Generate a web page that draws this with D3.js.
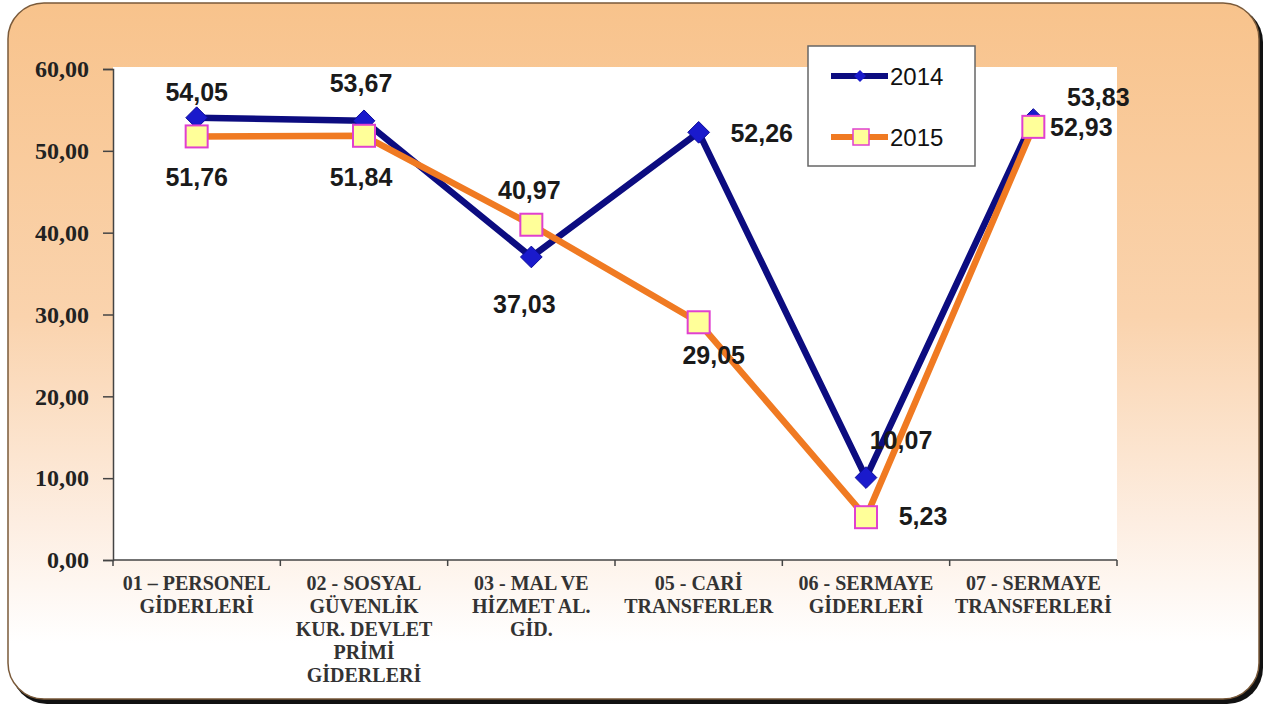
<!DOCTYPE html>
<html>
<head>
<meta charset="utf-8">
<script src="https://cdn.jsdelivr.net/npm/d3@7"></script>
<style>
  body { margin: 0; background: #ffffff; }
  svg { display: block; }
</style>
</head>
<body>
<div id="chart"></div>
<script>
var width = 1269,
    height = 707;

var categories = [
  ["01 – PERSONEL", "GİDERLERİ"],
  ["02 - SOSYAL", "GÜVENLİK", "KUR. DEVLET", "PRİMİ", "GİDERLERİ"],
  ["03 - MAL VE", "HİZMET AL.", "GİD."],
  ["05 - CARİ", "TRANSFERLER"],
  ["06 - SERMAYE", "GİDERLERİ"],
  ["07 - SERMAYE", "TRANSFERLERİ"]
];
var values2014 = [54.05, 53.67, 37.03, 52.26, 10.07, 53.83];
var values2015 = [51.76, 51.84, 40.97, 29.05, 5.23, 52.93];
var yTicks = [0, 10, 20, 30, 40, 50, 60];

// label offsets (dx, dy from the point)
var labelPos2014 = [[0, -26], [-3, -38], [-7, 47], [63, 1], [35, -38], [65, -22]];
var labelPos2015 = [[0, 41], [-3, 41], [-2, -35], [15, 33], [57, -1], [48, 0]];

var margin = {left: 113, right: 152, top: 69, bottom: 147};

var svg = d3.select("#chart").append("svg")
    .attr("width", width)
    .attr("height", height);

var defs = svg.append("defs");
var grad = defs.append("linearGradient")
    .attr("id", "bg").attr("x1", 0).attr("y1", 0).attr("x2", 0).attr("y2", 1);
grad.append("stop").attr("offset", "0%").attr("stop-color", "#f8c38c");
grad.append("stop").attr("offset", "45%").attr("stop-color", "#fad3ad");
grad.append("stop").attr("offset", "75%").attr("stop-color", "#fdeee2");
grad.append("stop").attr("offset", "92%").attr("stop-color", "#ffffff");

// frame with shadow
svg.append("rect")
    .attr("x", 11).attr("y", 6).attr("width", 1252).attr("height", 698)
    .attr("rx", 36).attr("ry", 36)
    .attr("fill", "#111");
svg.append("rect")
    .attr("x", 8).attr("y", 3).attr("width", 1251).attr("height", 696)
    .attr("rx", 36).attr("ry", 36)
    .attr("fill", "url(#bg)")
    .attr("stroke", "#7a5a3a").attr("stroke-width", 1.5);

var x = d3.scaleBand()
    .domain(d3.range(categories.length))
    .range([margin.left, width - margin.right]);

var y = d3.scaleLinear()
    .domain([0, 60])
    .range([height - margin.bottom, margin.top]);

// plot area
svg.append("rect")
    .attr("x", margin.left).attr("y", y(60) - 2)
    .attr("width", x.range()[1] - margin.left)
    .attr("height", y(0) - y(60) + 2)
    .attr("fill", "#ffffff");

// y axis
var yAxis = svg.append("g")
    .attr("transform", "translate(" + margin.left + ",0)")
    .call(d3.axisLeft(y).tickValues(yTicks).tickSize(10).tickPadding(14)
      .tickFormat(function(d) { return d3.format(".2f")(d).replace(".", ","); }));
yAxis.select(".domain").attr("stroke", "#444").attr("stroke-width", 1.5);
yAxis.selectAll(".tick line").attr("stroke", "#444").attr("stroke-width", 1.5);
yAxis.selectAll(".tick text")
    .attr("fill", "#222")
    .style("font-family", "'Liberation Serif', 'Times New Roman', serif")
    .style("font-weight", "bold")
    .style("font-size", "24px");

// x axis
var xAxisG = svg.append("g")
    .attr("transform", "translate(0," + y(0) + ")");
xAxisG.append("line")
    .attr("x1", x.range()[0]).attr("x2", x.range()[1])
    .attr("stroke", "#444").attr("stroke-width", 1.5);
xAxisG.selectAll(".xtick")
    .data(d3.range(categories.length + 1))
  .enter().append("line")
    .attr("x1", function(d) { return margin.left + d * x.bandwidth(); })
    .attr("x2", function(d) { return margin.left + d * x.bandwidth(); })
    .attr("y1", 0).attr("y2", 6)
    .attr("stroke", "#444").attr("stroke-width", 1.5);

var xLabels = xAxisG.selectAll(".xlabel")
    .data(categories)
  .enter().append("text")
    .attr("text-anchor", "middle")
    .attr("fill", "#333")
    .style("font-family", "'Liberation Serif', 'Times New Roman', serif")
    .style("font-weight", "bold")
    .style("font-size", "20px");
xLabels.selectAll("tspan")
    .data(function(d, i) { return d.map(function(t) { return {t: t, i: i}; }); })
  .enter().append("tspan")
    .attr("x", function(d) { return x(d.i) + x.bandwidth() / 2; })
    .attr("y", function(d, j) { return 30 + j * 23; })
    .text(function(d) { return d.t; });

var line = d3.line()
    .x(function(d, i) { return x(i) + x.bandwidth() / 2; })
    .y(function(d) { return y(d); });

// 2014 series
svg.append("path")
    .datum(values2014)
    .attr("d", line)
    .attr("fill", "none")
    .attr("stroke", "#0c0c80")
    .attr("stroke-width", 6.5)
    .attr("stroke-linejoin", "round");

svg.selectAll(".m2014")
    .data(values2014)
  .enter().append("path")
    .attr("d", d3.symbol().type(d3.symbolDiamond2).size(300))
    .attr("transform", function(d, i) { return "translate(" + (x(i) + x.bandwidth() / 2) + "," + y(d) + ")"; })
    .attr("fill", "#1a1acc")
    .attr("stroke", "#0c0c9a")
    .attr("stroke-width", 1);

// 2015 series
svg.append("path")
    .datum(values2015)
    .attr("d", line)
    .attr("fill", "none")
    .attr("stroke", "#f07a22")
    .attr("stroke-width", 6.5)
    .attr("stroke-linejoin", "round");

svg.selectAll(".m2015")
    .data(values2015)
  .enter().append("rect")
    .attr("x", function(d, i) { return x(i) + x.bandwidth() / 2 - 11; })
    .attr("y", function(d) { return y(d) - 11; })
    .attr("width", 22).attr("height", 22)
    .attr("fill", "#ffff99")
    .attr("stroke", "#e040d0")
    .attr("stroke-width", 2);

function fmt(v) { return d3.format(".2f")(v).replace(".", ","); }

function addLabels(vals, pos) {
  svg.append("g").selectAll("text")
      .data(vals)
    .enter().append("text")
      .attr("x", function(d, i) { return x(i) + x.bandwidth() / 2 + pos[i][0]; })
      .attr("y", function(d, i) { return y(d) + pos[i][1]; })
      .attr("text-anchor", "middle")
      .attr("dominant-baseline", "central")
      .attr("fill", "#1a1a1a")
      .style("font-family", "'Liberation Sans', Arial, sans-serif")
      .style("font-weight", "bold")
      .style("font-size", "25px")
      .text(fmt);
}
addLabels(values2014, labelPos2014);
addLabels(values2015, labelPos2015);

// legend
var legend = svg.append("g").attr("transform", "translate(808,46)");
legend.append("rect")
    .attr("width", 167).attr("height", 120)
    .attr("fill", "#ffffff")
    .attr("stroke", "#666").attr("stroke-width", 1.5);
var legendItems = [
  {name: "2014", color: "#0c0c80", y: 30},
  {name: "2015", color: "#f07a22", y: 91}
];
legendItems.forEach(function(it, k) {
  legend.append("line")
      .attr("x1", 23).attr("x2", 80).attr("y1", it.y).attr("y2", it.y)
      .attr("stroke", it.color).attr("stroke-width", 6);
  if (k === 0) {
    legend.append("path")
        .attr("d", d3.symbol().type(d3.symbolDiamond2).size(90))
        .attr("transform", "translate(52," + it.y + ")")
        .attr("fill", "#1a1acc");
  } else {
    legend.append("rect")
        .attr("x", 45).attr("y", it.y - 8).attr("width", 16).attr("height", 16)
        .attr("fill", "#ffff99").attr("stroke", "#e040d0").attr("stroke-width", 1.5);
  }
  legend.append("text")
      .attr("x", 82).attr("y", it.y)
      .attr("dominant-baseline", "central")
      .attr("fill", "#111")
      .style("font-family", "'Liberation Sans', Arial, sans-serif")
      .style("font-size", "24px")
      .text(it.name);
});
</script>
</body>
</html>
